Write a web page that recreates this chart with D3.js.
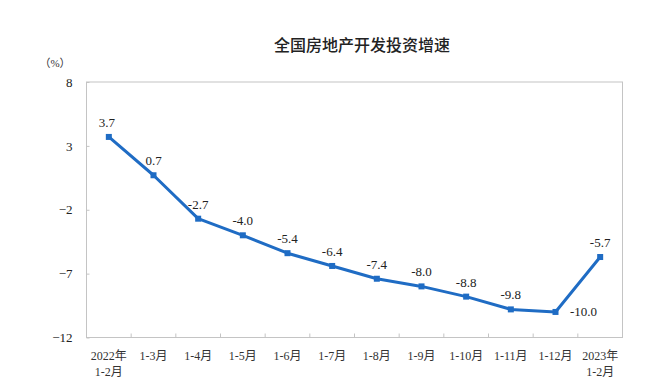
<!DOCTYPE html>
<html><head><meta charset="utf-8">
<script src="https://cdn.jsdelivr.net/npm/d3@7"></script>
<style>body{margin:0;background:#fff}</style>
</head><body>
<svg id="c" width="670" height="392"></svg>
<script>
const categories = [["2022年","1-2月"],["1-3月"],["1-4月"],["1-5月"],["1-6月"],["1-7月"],["1-8月"],["1-9月"],["1-10月"],["1-11月"],["1-12月"],["2023年","1-2月"]];
const values = [3.7, 0.7, -2.7, -4.0, -5.4, -6.4, -7.4, -8.0, -8.8, -9.8, -10.0, -5.7];
const yTicks = [8, 3, -2, -7, -12];
const title = "全国房地产开发投资增速";
const unit = "（%）";

const svg = d3.select("#c");
const L = 86.5, R = 622.5, T = 82, B = 337.5;
const x = d3.scaleBand().domain(d3.range(categories.length)).range([L, R]);
const y = d3.scaleLinear().domain([-12, 8]).range([B, T]);
const serif = "'Liberation Serif','Times New Roman',serif";
const cjk = "'Liberation Serif','Noto Sans CJK SC',serif";

svg.append("text").attr("x", 362).attr("y", 51).attr("text-anchor", "middle")
  .attr("font-family", "'Noto Sans CJK SC'").attr("font-size", 16).attr("font-weight", 500)
  .attr("fill", "#222").text(title);
svg.append("text").attr("x", 55).attr("y", 67).attr("text-anchor", "middle")
  .attr("font-family", cjk).attr("font-size", 11).attr("fill", "#333").text(unit);

// frame
svg.append("rect").attr("x", L).attr("y", T).attr("width", R - L).attr("height", B - T)
  .attr("fill", "none").attr("stroke", "#c4c4c4").attr("stroke-width", 1);

// y axis
const ya = svg.append("g").attr("transform", `translate(${L},0)`)
  .call(d3.axisRight(y).tickValues(yTicks).tickSize(3).tickFormat(d3.format("d")));
ya.select(".domain").remove();
ya.selectAll("line").attr("stroke", "#c4c4c4");
ya.selectAll("text").attr("x", -14).attr("text-anchor", "end").attr("font-family", serif)
  .attr("font-size", 13).attr("fill", "#222");

// x axis ticks at band boundaries
const xa = svg.append("g").attr("transform", `translate(0,${B})`)
  .call(d3.axisTop(x).tickSize(0).tickFormat(""));
xa.select(".domain").remove();
svg.append("g").selectAll("line").data(d3.range(1, categories.length)).join("line")
  .attr("x1", d => x(d)).attr("x2", d => x(d)).attr("y1", B).attr("y2", B - 4)
  .attr("stroke", "#c4c4c4");
const xl = svg.append("g").selectAll("text").data(categories).join("text")
  .attr("text-anchor", "middle").attr("font-family", cjk).attr("font-size", 12).attr("fill", "#333");
xl.each(function(d, i) {
  const t = d3.select(this);
  d.forEach((s, k) => t.append("tspan").attr("x", x(i) + x.bandwidth() / 2).attr("y", 360 + k * 16).text(s));
});

// line
const color = "#1f6cc4";
const line = d3.line().x((d, i) => x(i) + x.bandwidth() / 2).y(d => y(d));
svg.append("path").datum(values).attr("d", line).attr("fill", "none")
  .attr("stroke", color).attr("stroke-width", 3).attr("stroke-linejoin", "round");
svg.append("g").selectAll("rect").data(values).join("rect")
  .attr("x", (d, i) => x(i) + x.bandwidth() / 2 - 3).attr("y", d => y(d) - 3)
  .attr("width", 6).attr("height", 6).attr("fill", color);

// labels
svg.append("g").selectAll("text").data(values).join("text")
  .attr("x", (d, i) => x(i) + x.bandwidth() / 2 + (i === 10 ? 28 : i === 0 ? -2 : 0))
  .attr("y", (d, i) => i === 10 ? y(d) + 4 : y(d) - 10)
  .attr("text-anchor", "middle").attr("font-family", serif).attr("font-size", 13)
  .attr("fill", "#222").text(d => d.toFixed(1));
</script>
</body></html>
